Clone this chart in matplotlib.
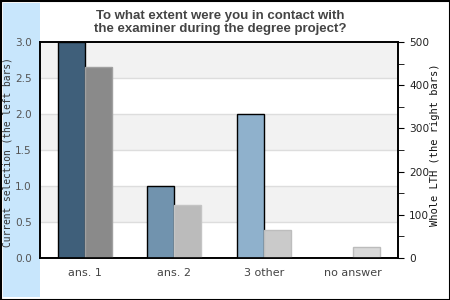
import matplotlib
matplotlib.use("Agg")
import matplotlib.pyplot as plt
from matplotlib.patches import Rectangle
from matplotlib.ticker import MultipleLocator

categories = ["ans. 1", "ans. 2", "3 other", "no answer"]
selection = [3, 1, 2, 0]          # left bars, left axis
whole_lth = [442, 123, 65, 25]    # right bars, right axis

left_colors = ["#3f5f7a", "#7193ae", "#8fb1cc", "#a9c6dc"]
right_colors = ["#8a8a8a", "#bbbbbb", "#cacaca", "#d9d9d9"]
right_edges = ["#a0a0a0", "#c4c4c4", "#bdbdbd", "#bcbcbc"]

fig = plt.figure(figsize=(4.5, 3), dpi=100)
fig.patch.set_facecolor("white")

# light blue strip on the left and the black frame
fig.patches.append(Rectangle((3 / 450, 3 / 300), 37 / 450, 294 / 300,
                             transform=fig.transFigure, facecolor="#c8e6fc",
                             edgecolor="none", zorder=-1))
fig.patches.append(Rectangle((0.5 / 450, 0.5 / 300), 449 / 450, 299 / 300,
                             transform=fig.transFigure, facecolor="none",
                             edgecolor="black", linewidth=1.5, zorder=5))

ax = fig.add_axes([40 / 450, 42 / 300, 358 / 450, 216 / 300])
ax.set_xlim(-0.5, 3.5)
ax.set_ylim(0, 3)

# alternating background bands + grid lines (on the bottom axes)
for k in range(6):
    lo = k * 0.5
    if k % 2 == 1:
        ax.axhspan(lo, lo + 0.5, color="#f2f2f2", zorder=0, lw=0)
    ax.axhline(lo, color="#dddddd", lw=1, zorder=0.5)

x = list(range(len(categories)))
w = 0.3
for i in x:
    if selection[i] > 0:
        ax.bar(i - w / 2, selection[i], width=w, color=left_colors[i],
               edgecolor="black", linewidth=1, zorder=3)

ax2 = ax.twinx()
ax2.set_ylim(0, 500)
ax2.patch.set_visible(False)
for i in x:
    ax2.bar(i + w / 2, whole_lth[i], width=w, color=right_colors[i],
            edgecolor=right_edges[i], linewidth=1, zorder=2)

ax.set_xticks(x)
ax.set_xticklabels(categories, color="#444444", fontsize=8)
ax.tick_params(axis="x", length=0, pad=7)
ax.tick_params(axis="y", length=0, labelsize=7.6, labelcolor="#555555", pad=6)
ax.yaxis.set_major_locator(MultipleLocator(0.5))

ax2.yaxis.set_major_locator(MultipleLocator(100))
ax2.yaxis.set_minor_locator(MultipleLocator(50))
ax2.tick_params(axis="y", which="major", length=4, labelsize=7.6, labelcolor="#222222", pad=4)
ax2.tick_params(axis="y", which="minor", length=4)

for a in (ax, ax2):
    for s in a.spines.values():
        s.set_linewidth(1.2)

ax.set_ylabel("Current selection (the left bars)", family="DejaVu Sans Mono",
              fontsize=6.9, color="#333333")
ax.yaxis.set_label_coords(-27 / 358, 0.49)
ax2.set_ylabel("Whole LTH (the right bars)", family="DejaVu Sans Mono",
               fontsize=7.5, color="#111111")
ax2.yaxis.set_label_coords(390 / 358, 0.523)

fig.text(0.49, 0.965, "To what extent were you in contact with\nthe examiner during the degree project?",
         ha="center", va="top", fontsize=9.5, fontweight="bold", color="#444444",
         family="Liberation Sans", linespacing=1.1)

fig.savefig("out.png", dpi=100)
